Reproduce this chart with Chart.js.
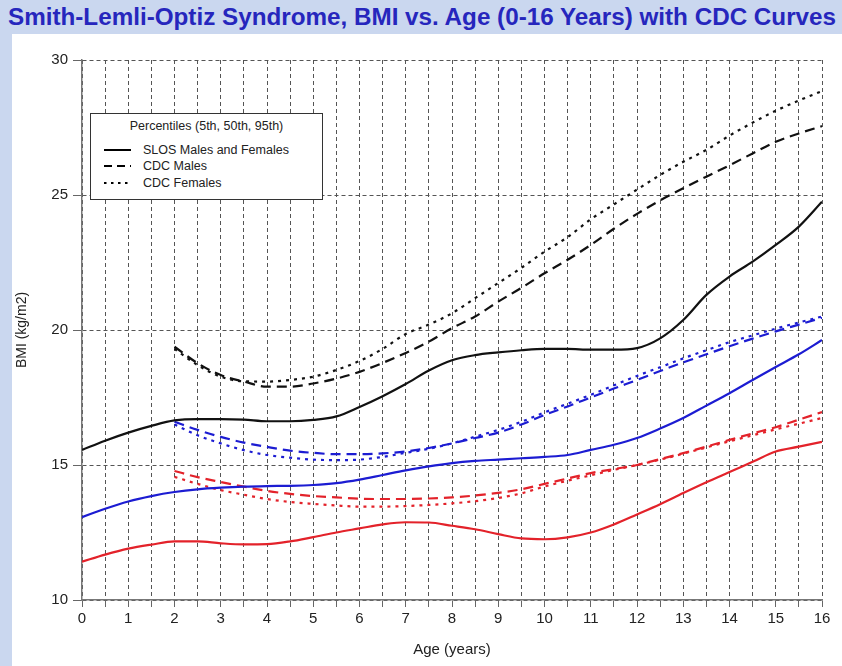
<!DOCTYPE html>
<html>
<head>
<meta charset="utf-8">
<script src="https://cdn.jsdelivr.net/npm/chart.js@4.4.1/dist/chart.umd.min.js"></script>
<style>
  html, body { margin: 0; padding: 0; }
  body { width: 842px; height: 666px; background: #cad7ef; position: relative; overflow: hidden; font-family: "Liberation Sans", Arial, sans-serif; }
  #paper { position: absolute; left: 12px; top: 34px; right: 0; bottom: 0; background: #fff; }
  #title { position: absolute; left: 8px; top: 4px; font-weight: bold; font-size: 23px; color: #2626bd; white-space: nowrap; transform-origin: left top; }
  #chart { position: absolute; left: 0; top: 0; }
  #legend { position: absolute; left: 90px; top: 113px; width: 233px; height: 87px; box-sizing: border-box; border: 1.5px solid #333; background: #fff; font-size: 12.5px; color: #222; }
  #legend .head { position: absolute; left: 0; right: 0; top: 5px; text-align: center; }
  #legend .row { position: absolute; left: 12px; height: 14px; line-height: 14px; }
  #legend svg { position: absolute; left: 0; top: 0; }
  #legend .row span { position: absolute; left: 40px; top: 0; white-space: nowrap; }
</style>
</head>
<body>
<div id="paper"></div>
<div id="title">Smith-Lemli-Optiz Syndrome, BMI vs. Age (0-16 Years) with CDC Curves</div>
<canvas id="chart" width="842" height="666"></canvas>
<div id="legend">
  <div class="head">Percentiles (5th, 50th, 95th)</div>
  <div class="row" style="top:29px"><svg width="30" height="14"><line x1="1" y1="7" x2="28" y2="7" stroke="#000" stroke-width="2"/></svg><span>SLOS Males and Females</span></div>
  <div class="row" style="top:45px"><svg width="30" height="14"><line x1="1" y1="7" x2="28" y2="7" stroke="#000" stroke-width="2" stroke-dasharray="8 5"/></svg><span>CDC Males</span></div>
  <div class="row" style="top:62px"><svg width="30" height="14"><line x1="1" y1="7" x2="28" y2="7" stroke="#000" stroke-width="2" stroke-dasharray="2.5 4.5"/></svg><span>CDC Females</span></div>
</div>
<script>
// ages (years)
const slosAges = [0,0.5,1,1.5,2,2.5,3,3.5,4,4.5,5,5.5,6,6.5,7,7.5,8,8.5,9,9.5,10,10.5,11,11.5,12,12.5,13,13.5,14,14.5,15,15.5,16];
const cdcAges = [2,2.5,3,3.5,4,4.5,5,5.5,6,6.5,7,7.5,8,8.5,9,9.5,10,10.5,11,11.5,12,12.5,13,13.5,14,14.5,15,15.5,16];

// SLOS males and females
const slos95 = [15.56,15.9,16.2,16.45,16.65,16.7,16.7,16.68,16.62,16.62,16.67,16.8,17.15,17.55,18.0,18.5,18.88,19.07,19.17,19.25,19.3,19.3,19.27,19.27,19.33,19.69,20.37,21.3,21.98,22.53,23.15,23.83,24.75];
const slos50 = [13.07,13.38,13.65,13.85,14.0,14.1,14.16,14.2,14.22,14.23,14.26,14.33,14.46,14.63,14.8,14.95,15.07,15.15,15.2,15.25,15.3,15.37,15.56,15.75,16.0,16.35,16.74,17.2,17.66,18.15,18.63,19.1,19.63];
const slos5 = [11.42,11.68,11.9,12.05,12.17,12.17,12.1,12.06,12.07,12.17,12.33,12.5,12.65,12.8,12.88,12.87,12.75,12.62,12.44,12.28,12.25,12.32,12.5,12.8,13.17,13.55,13.96,14.36,14.74,15.12,15.5,15.68,15.86];

// CDC males
const cdcM95 = [19.38,18.77,18.33,18.09,17.9,17.9,18.02,18.2,18.45,18.78,19.15,19.57,20.07,20.5,21.05,21.56,22.1,22.6,23.15,23.75,24.3,24.8,25.25,25.68,26.1,26.54,26.97,27.28,27.55];
const cdcM50 = [16.6,16.3,16.04,15.83,15.67,15.53,15.45,15.4,15.4,15.43,15.5,15.63,15.8,16.0,16.2,16.5,16.85,17.17,17.5,17.83,18.15,18.48,18.8,19.1,19.4,19.68,19.95,20.2,20.45];
const cdcM5 = [14.78,14.55,14.37,14.2,14.04,13.93,13.85,13.8,13.75,13.74,13.74,13.76,13.8,13.87,13.97,14.1,14.3,14.5,14.7,14.85,15.0,15.22,15.44,15.68,15.93,16.17,16.4,16.68,16.96];

// CDC females
const cdcF95 = [19.3,18.7,18.27,18.1,18.09,18.15,18.27,18.52,18.85,19.3,19.85,20.2,20.62,21.18,21.74,22.3,22.9,23.44,24.1,24.65,25.2,25.74,26.23,26.67,27.2,27.68,28.12,28.5,28.85];
const cdcF50 = [16.5,16.1,15.8,15.55,15.37,15.27,15.2,15.18,15.2,15.3,15.45,15.6,15.8,16.05,16.3,16.6,16.95,17.27,17.6,17.95,18.3,18.62,18.95,19.25,19.55,19.8,20.05,20.28,20.5];
const cdcF5 = [14.56,14.3,14.07,13.9,13.74,13.63,13.56,13.5,13.46,13.46,13.48,13.52,13.58,13.66,13.78,13.95,14.2,14.42,14.62,14.82,15.0,15.2,15.42,15.65,15.88,16.1,16.32,16.53,16.74];

const BLACK = '#111111', BLUE = '#1c1cd2', RED = '#e3222a';
const DASH = [10, 6], DOT = [3, 5];
const FONT = 'Liberation Sans, Arial';

function pts(xs, ys) { return xs.map((x, i) => ({x: x, y: ys[i]})); }
function series(label, xs, ys, color, dash) {
  return {
    label: label,
    data: pts(xs, ys),
    borderColor: color,
    borderWidth: 2.2,
    borderDash: dash,
    pointRadius: 0,
    fill: false,
    cubicInterpolationMode: 'monotone'
  };
}

new Chart(document.getElementById('chart'), {
  type: 'line',
  data: {
    datasets: [
      series('CDC Females 95th', cdcAges, cdcF95, BLACK, DOT),
      series('CDC Males 95th', cdcAges, cdcM95, BLACK, DASH),
      series('SLOS 95th', slosAges, slos95, BLACK, []),
      series('CDC Females 50th', cdcAges, cdcF50, BLUE, DOT),
      series('CDC Males 50th', cdcAges, cdcM50, BLUE, DASH),
      series('SLOS 50th', slosAges, slos50, BLUE, []),
      series('CDC Females 5th', cdcAges, cdcF5, RED, DOT),
      series('CDC Males 5th', cdcAges, cdcM5, RED, DASH),
      series('SLOS 5th', slosAges, slos5, RED, [])
    ]
  },
  options: {
    responsive: false,
    animation: false,
    devicePixelRatio: 1,
    layout: { padding: { top: 60, right: 20, left: 0, bottom: 0 } },
    plugins: { legend: { display: false }, tooltip: { enabled: false } },
    scales: {
      x: {
        type: 'linear',
        min: 0, max: 16,
        afterFit: (s) => { s.height = 66; },
        ticks: {
          stepSize: 0.5, autoSkip: false, maxRotation: 0, padding: 3,
          color: '#222', font: { family: FONT, size: 15 },
          callback: (v) => Number.isInteger(v) ? v : ''
        },
        grid: { color: '#555', lineWidth: 1, tickLength: 7, tickColor: '#666', tickWidth: 1 },
        border: { display: true, color: '#777', width: 1.5, dash: [4, 3] },
        title: { display: true, text: 'Age (years)', color: '#222', font: { family: FONT, size: 15 }, padding: { top: 0, bottom: 7 } }
      },
      y: {
        min: 10, max: 30,
        afterFit: (s) => { s.width = 82; },
        ticks: {
          stepSize: 5, padding: 5,
          color: '#222', font: { family: FONT, size: 15 }
        },
        grid: { color: '#555', lineWidth: 1, tickLength: 9, tickColor: '#666', tickWidth: 1 },
        border: { display: true, color: '#777', width: 1.5, dash: [4, 3] },
        title: { display: true, text: 'BMI (kg/m2)', color: '#222', font: { family: FONT, size: 14 }, padding: { top: 14, bottom: 0 } }
      }
    }
  }
});

// squeeze the title to the reference width
const t = document.getElementById('title');
t.style.transform = 'scaleX(' + (828 / t.offsetWidth) + ')';
</script>
</body>
</html>
